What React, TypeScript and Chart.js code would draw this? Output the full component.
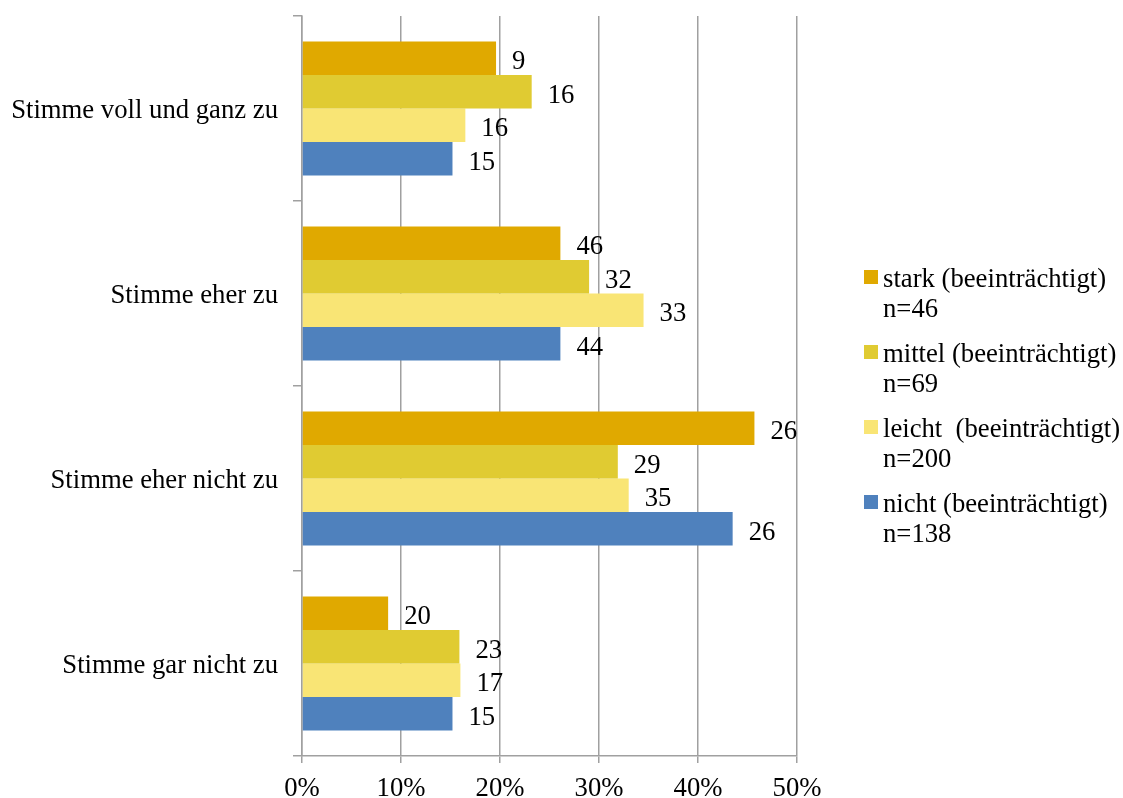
import React, { useEffect, useRef } from 'react';
import { Chart, registerables } from 'chart.js';

Chart.register(...registerables);

const categories = ['Stimme voll und ganz zu', 'Stimme eher zu', 'Stimme eher nicht zu', 'Stimme gar nicht zu'];

const seriesNames = ['stark (beeinträchtigt)', 'mittel (beeinträchtigt)', 'leicht  (beeinträchtigt)', 'nicht (beeinträchtigt)'];
const seriesCounts = ['n=46', 'n=69', 'n=200', 'n=138'];
const seriesColors = ['#E0A900', '#E0CB32', '#F9E575', '#4F81BD'];

const starkValues = [19.6, 26.1, 45.7, 8.7];
const mittelValues = [23.2, 29.0, 31.9, 15.9];
const leichtValues = [16.5, 34.5, 33.0, 16.0];
const nichtValues = [15.2, 26.1, 43.5, 15.2];

const starkLabels = ['9', '46', '26', '20'];
const mittelLabels = ['16', '32', '29', '23'];
const leichtLabels = ['16', '33', '35', '17'];
const nichtLabels = ['15', '44', '26', '15'];

const xTickMin = 0;
const xTickMax = 50;
const xTickStep = 10;

const FONT_FAMILY = '"Liberation Serif", "Times New Roman", serif';
const FONT_SIZE = 26.7;
const GRID_COLOR = '#a0a0a0';

const seriesValues = [starkValues, mittelValues, leichtValues, nichtValues];
const seriesLabels = [starkLabels, mittelLabels, leichtLabels, nichtLabels];

const dataLabelPlugin = {
  id: 'barValueLabels',
  afterDatasetsDraw(chart: any) {
    const ctx = chart.ctx;
    ctx.save();
    ctx.font = `${FONT_SIZE}px ${FONT_FAMILY}`;
    ctx.fillStyle = '#000';
    ctx.textAlign = 'left';
    ctx.textBaseline = 'middle';
    chart.data.datasets.forEach((ds: any, di: number) => {
      const meta = chart.getDatasetMeta(di);
      meta.data.forEach((el: any, i: number) => {
        ctx.fillText(seriesLabels[di][i], el.x + 16, el.y + 4);
      });
    });
    ctx.restore();
  },
};

const sideLegendPlugin = {
  id: 'sideLegend',
  afterDraw(chart: any) {
    const ctx = chart.ctx;
    const area = chart.chartArea;
    const x0 = area.right + 67;
    const mid = (area.top + area.bottom) / 2;
    const startY = mid - 116;
    ctx.save();
    ctx.font = `${FONT_SIZE}px ${FONT_FAMILY}`;
    ctx.textAlign = 'left';
    ctx.textBaseline = 'middle';
    chart.data.datasets.forEach((ds: any, i: number) => {
      const top = startY + i * 75;
      ctx.fillStyle = ds.backgroundColor;
      ctx.fillRect(x0, top, 14, 14);
      ctx.fillStyle = '#000';
      ctx.fillText(seriesNames[i], x0 + 19, top + 10);
      ctx.fillText(seriesCounts[i], x0 + 19, top + 10 + 30);
    });
    ctx.restore();
  },
};

export default function App() {
  const canvasRef = useRef<HTMLCanvasElement | null>(null);

  useEffect(() => {
    if (!canvasRef.current) return;
    const chart = new Chart(canvasRef.current, {
      type: 'bar',
      data: {
        labels: categories,
        datasets: seriesValues.map((vals, i) => ({
          label: `${seriesNames[i]} ${seriesCounts[i]}`,
          data: vals,
          backgroundColor: seriesColors[i],
          borderWidth: 0,
          categoryPercentage: 0.724,
          barPercentage: 1.0,
        })),
      },
      options: {
        indexAxis: 'y',
        responsive: false,
        animation: false,
        layout: { padding: { left: 0, top: 16, right: 326, bottom: 0 } },
        plugins: {
          legend: { display: false },
          tooltip: { enabled: false },
        },
        scales: {
          x: {
            min: xTickMin,
            max: xTickMax,
            ticks: {
              stepSize: xTickStep,
              color: '#000',
              padding: 10,
              font: { family: FONT_FAMILY, size: FONT_SIZE },
              callback: (v: any) => `${v}%`,
              maxRotation: 0,
            },
            grid: {
              color: GRID_COLOR,
              lineWidth: 1.5,
              drawOnChartArea: true,
              drawTicks: true,
              tickLength: 7,
            },
            border: { display: true, color: GRID_COLOR, width: 1.5 },
            afterFit: (scale: any) => {
              scale.height = 42;
              scale.paddingLeft = 0;
              scale.paddingRight = 0;
            },
          },
          y: {
            ticks: {
              color: '#000',
              padding: 15,
              labelOffset: 2,
              font: { family: FONT_FAMILY, size: FONT_SIZE },
            },
            grid: {
              color: GRID_COLOR,
              lineWidth: 1.5,
              drawOnChartArea: false,
              drawTicks: true,
              tickLength: 9,
              offset: true,
            },
            border: { display: true, color: GRID_COLOR, width: 1.5 },
            afterFit: (scale: any) => {
              scale.width = 302;
              scale.paddingTop = 0;
              scale.paddingBottom = 0;
            },
          },
        },
      },
      plugins: [dataLabelPlugin, sideLegendPlugin],
    } as any);
    return () => chart.destroy();
  }, []);

  return (
    <div style={{ position: 'fixed', left: 0, top: 0, width: 1123, height: 798, background: '#fff' }}>
      <canvas ref={canvasRef} width={1123} height={798} style={{ display: 'block' }} />
    </div>
  );
}
